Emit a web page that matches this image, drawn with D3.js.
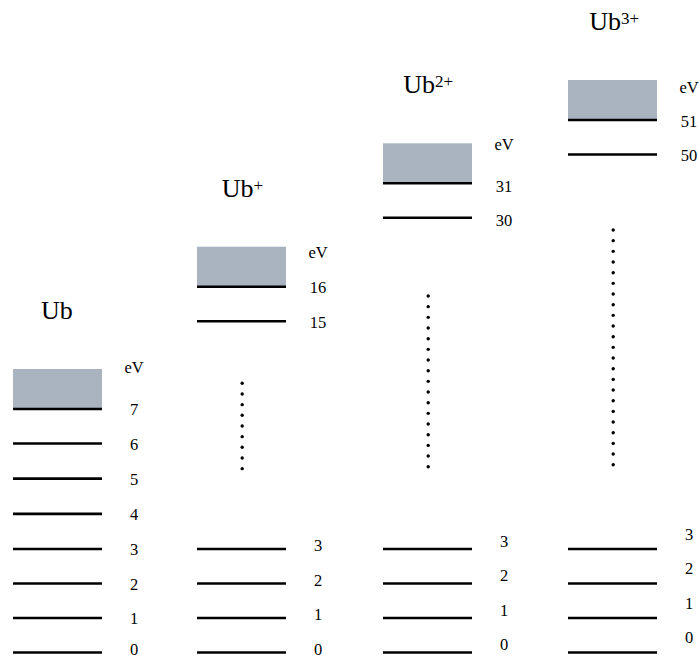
<!DOCTYPE html>
<html>
<head>
<meta charset="utf-8">
<script src="https://cdn.jsdelivr.net/npm/d3@7"></script>
<style>
  body { margin: 0; background: #fff; }
  svg { display: block; }
  .title { font-family: 'Liberation Serif', 'Times New Roman', serif; font-size: 26px; fill: #000; }
  .lbl { font-family: 'Liberation Serif', 'Times New Roman', serif; font-size: 16.5px; fill: #000; }
</style>
</head>
<body>
<div id="chart"></div>
<script>
// energy levels (eV) for each ion
const ionBase = "Ub";
const ionCharges = ["", "+", "2+", "3+"];
const levelsUb  = [0, 1, 2, 3, 4, 5, 6, 7];
const levelsUb1 = [0, 1, 2, 3, 15, 16];
const levelsUb2 = [0, 1, 2, 3, 30, 31];
const levelsUb3 = [0, 1, 2, 3, 50, 51];
const unitLabel = "eV";
const gapDots = [0, 9, 17, 23];

// layout per panel (pixels)
const panelX = [13, 197, 383, 568];
const panelTop = [409, 286.7, 183.3, 120];
const titleX = [41, 221.7, 403.3, 589.3];
const dyHigh = [6, 6.6, 8.5, 6.7];
const dyLow = [2.5, 2, -2.5, -9.5];
const unitDy = [-35.7, -28.4, -33.3, -26.7];
const dotTop = [0, 383.3, 296, 230];

const W = 699, H = 659;
const lineW = 89, boxH = 40, step = 34.5, yBase = 652.5, dotGap = 10.67;

const svg = d3.select('#chart').append('svg')
    .attr('width', W).attr('height', H)
    .style('background', '#fff');

const allLevels = [levelsUb, levelsUb1, levelsUb2, levelsUb3];

allLevels.forEach((levels, i) => {
    const hi = d3.max(levels);
    // broken axis: low levels share a base, top levels sit at panel height
    const y = d3.scaleLinear()
        .domain([0, 3, hi - 1, hi])
        .range([yBase, yBase - 3 * step, panelTop[i] + step, panelTop[i]]);
    const x0 = panelX[i], x1 = x0 + lineW, lx = x1 + 32;
    const g = svg.append('g');

    // continuum box above the ionisation level
    g.append('rect')
        .attr('x', x0).attr('y', y(hi) - boxH)
        .attr('width', lineW).attr('height', boxH)
        .attr('fill', '#aab3c0');

    g.selectAll('line.lvl').data(levels).enter().append('line')
        .attr('class', 'lvl')
        .attr('x1', x0).attr('x2', x1)
        .attr('y1', d => y(d)).attr('y2', d => y(d))
        .attr('stroke', '#000').attr('stroke-width', 2.6);

    g.selectAll('text.lbl').data(levels).enter().append('text')
        .attr('class', 'lbl')
        .attr('x', lx)
        .attr('y', d => y(d) + (d > 3 && i > 0 ? dyHigh[i] : (i === 0 ? dyHigh[0] - (d === 0 ? 3.5 : 0) : dyLow[i])))
        .attr('text-anchor', 'middle')
        .text(d => d);

    g.append('text').attr('class', 'lbl')
        .attr('x', lx).attr('y', y(hi) + unitDy[i])
        .attr('text-anchor', 'middle')
        .text(unitLabel);

    const t = g.append('text').attr('class', 'title')
        .attr('x', titleX[i]).attr('y', y(hi) - boxH - 50);
    t.append('tspan').text(ionBase);
    if (ionCharges[i]) {
        t.append('tspan').attr('dy', -6).style('font-size', '17px').text(ionCharges[i]);
    }

    // vertical dots for the omitted levels
    g.selectAll('circle').data(d3.range(gapDots[i])).enter().append('circle')
        .attr('cx', x0 + lineW / 2 + 0.7)
        .attr('cy', k => dotTop[i] + k * dotGap)
        .attr('r', 1.7)
        .attr('fill', '#000');
});
</script>
</body>
</html>
